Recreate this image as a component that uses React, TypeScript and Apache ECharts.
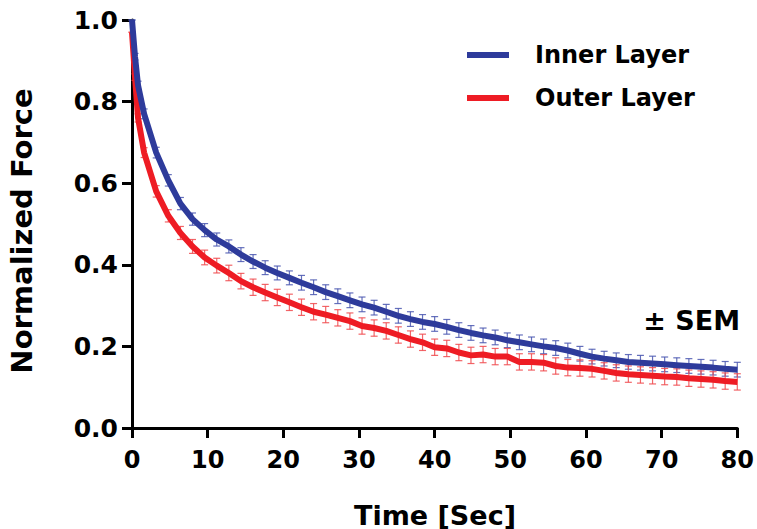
import React, { useEffect, useRef } from "react";
import * as echarts from "echarts";

const times = [0, 0.4, 0.8, 1.6, 3.2, 4.8, 6.4, 8, 9.6, 11.2, 12.8, 14.4, 16, 17.6, 19.2, 20.8, 22.4, 24, 25.6, 27.2, 28.8, 30.4, 32, 33.6, 35.2, 36.8, 38.4, 40, 41.6, 43.2, 44.8, 46.4, 48, 49.6, 51.2, 52.8, 54.4, 56, 57.6, 59.2, 60.8, 62.4, 64, 65.6, 67.2, 68.8, 70.4, 72, 73.6, 75.2, 76.8, 78.4, 80];

const innerMean = [1.0, 0.91, 0.84, 0.77, 0.675, 0.607, 0.55, 0.512, 0.485, 0.462, 0.445, 0.425, 0.408, 0.393, 0.38, 0.368, 0.356, 0.345, 0.333, 0.323, 0.313, 0.303, 0.295, 0.285, 0.275, 0.267, 0.26, 0.255, 0.248, 0.24, 0.233, 0.227, 0.222, 0.215, 0.21, 0.205, 0.2, 0.196, 0.19, 0.182, 0.175, 0.17, 0.166, 0.162, 0.16, 0.158, 0.156, 0.154, 0.152, 0.15, 0.148, 0.145, 0.143];
const innerSem = [0, 0.008, 0.01, 0.012, 0.013, 0.014, 0.015, 0.015, 0.016, 0.016, 0.016, 0.017, 0.017, 0.017, 0.017, 0.017, 0.018, 0.018, 0.018, 0.018, 0.018, 0.018, 0.018, 0.018, 0.018, 0.018, 0.018, 0.018, 0.018, 0.018, 0.018, 0.018, 0.018, 0.018, 0.018, 0.018, 0.018, 0.018, 0.018, 0.018, 0.018, 0.018, 0.018, 0.018, 0.018, 0.018, 0.018, 0.018, 0.018, 0.018, 0.018, 0.018, 0.018];

const outerMean = [0.97, 0.86, 0.76, 0.675, 0.58, 0.52, 0.478, 0.445, 0.418, 0.398, 0.38, 0.36, 0.345, 0.332, 0.32, 0.308, 0.296, 0.285, 0.278, 0.27, 0.262, 0.25, 0.245, 0.238, 0.228, 0.218, 0.21, 0.198, 0.195, 0.185, 0.178, 0.18, 0.175, 0.175, 0.162, 0.162, 0.16, 0.152, 0.148, 0.147, 0.145, 0.14, 0.135, 0.132, 0.13, 0.128, 0.126, 0.125, 0.122, 0.12, 0.118, 0.115, 0.113];
const outerSem = [0, 0.008, 0.01, 0.012, 0.014, 0.015, 0.016, 0.017, 0.018, 0.018, 0.019, 0.019, 0.02, 0.02, 0.02, 0.02, 0.02, 0.02, 0.02, 0.02, 0.02, 0.02, 0.02, 0.02, 0.02, 0.02, 0.02, 0.02, 0.02, 0.02, 0.02, 0.02, 0.02, 0.02, 0.02, 0.02, 0.02, 0.02, 0.02, 0.02, 0.02, 0.02, 0.02, 0.02, 0.02, 0.02, 0.02, 0.02, 0.02, 0.02, 0.02, 0.02, 0.02];

const seriesNames = ["Inner Layer", "Outer Layer"];
const xTicks = [0, 10, 20, 30, 40, 50, 60, 70, 80];
const yTicks = [0.0, 0.2, 0.4, 0.6, 0.8, 1.0];

const BLUE = "#2e3b9b";
const RED = "#ee1c24";
const FONT = "DejaVu Sans, Liberation Sans, Arial, sans-serif";

function errorSeries(mean: number[], sem: number[], color: string) {
  const data = times.map((t, i) => [t, mean[i] - sem[i], mean[i] + sem[i]]);
  return {
    type: "custom",
    silent: true,
    z: 1,
    data,
    encode: { x: 0, y: [1, 2] },
    renderItem: (params: any, api: any) => {
      const x = api.value(0);
      const lo = api.coord([x, api.value(1)]);
      const hi = api.coord([x, api.value(2)]);
      const w = 3.5;
      const style = { stroke: color, lineWidth: 1.2, opacity: 0.85 };
      return {
        type: "group",
        children: [
          { type: "line", shape: { x1: lo[0], y1: lo[1], x2: hi[0], y2: hi[1] }, style },
          { type: "line", shape: { x1: lo[0] - w, y1: lo[1], x2: lo[0] + w, y2: lo[1] }, style },
          { type: "line", shape: { x1: hi[0] - w, y1: hi[1], x2: hi[0] + w, y2: hi[1] }, style },
        ],
      };
    },
  };
}

export default function App() {
  const ref = useRef<HTMLDivElement>(null);
  useEffect(() => {
    if (!ref.current) return;
    const chart = echarts.init(ref.current, null, { renderer: "svg" });
    chart.setOption({
      animation: false,
      backgroundColor: "#ffffff",
      grid: { left: 132, right: 18, top: 20, bottom: 101, containLabel: false },
      legend: {
        data: seriesNames,
        orient: "vertical",
        left: 462,
        top: 38,
        icon: "rect",
        itemWidth: 42,
        itemHeight: 6,
        itemGap: 19,
        textStyle: {
          fontFamily: FONT,
          fontWeight: "bold",
          fontSize: 24,
          color: "#000",
          padding: [0, 0, 0, 21],
        },
      },
      xAxis: {
        type: "value",
        min: 0,
        max: 80,
        interval: 10,
        axisLine: { show: true, lineStyle: { color: "#000", width: 3 } },
        axisTick: { show: true, length: 10, lineStyle: { color: "#000", width: 3 } },
        axisLabel: {
          margin: 20,
          fontFamily: FONT,
          fontWeight: "bold",
          fontSize: 24,
          color: "#000",
          formatter: (v: number) => (xTicks.includes(v) ? String(v) : ""),
        },
        splitLine: { show: false },
      },
      yAxis: {
        type: "value",
        min: 0,
        max: 1,
        interval: 0.2,
        axisLine: { show: true, lineStyle: { color: "#000", width: 3 } },
        axisTick: { show: true, length: 10, lineStyle: { color: "#000", width: 3 } },
        axisLabel: {
          margin: 14,
          fontFamily: FONT,
          fontWeight: "bold",
          fontSize: 25,
          color: "#000",
          formatter: (v: number) => {
            const t = yTicks.find((k) => Math.abs(k - v) < 1e-6);
            return t === undefined ? "" : t.toFixed(1);
          },
        },
        splitLine: { show: false },
      },
      graphic: [
        {
          type: "text",
          x: 435,
          y: 515,
          style: {
            text: "Time [Sec]",
            fontFamily: FONT,
            fontWeight: "bold",
            fontSize: 27,
            fill: "#000",
            align: "center",
            verticalAlign: "middle",
          },
        },
        {
          type: "text",
          x: 22,
          y: 231,
          rotation: Math.PI / 2,
          style: {
            text: "Normalized Force",
            fontFamily: FONT,
            fontWeight: "bold",
            fontSize: 29,
            fill: "#000",
            align: "center",
            verticalAlign: "middle",
          },
        },
        {
          type: "text",
          x: 740,
          y: 320,
          style: {
            text: "± SEM",
            fontFamily: FONT,
            fontWeight: "bold",
            fontSize: 27,
            fill: "#000",
            align: "right",
            verticalAlign: "middle",
          },
        },
      ],
      series: [
        errorSeries(innerMean, innerSem, "#4a57b0"),
        errorSeries(outerMean, outerSem, "#f04a4e"),
        {
          name: seriesNames[0],
          type: "line",
          z: 3,
          data: times.map((t, i) => [t, innerMean[i]]),
          showSymbol: false,
          lineStyle: { color: BLUE, width: 6 },
          itemStyle: { color: BLUE },
        },
        {
          name: seriesNames[1],
          type: "line",
          z: 2,
          data: times.map((t, i) => [t, outerMean[i]]),
          showSymbol: false,
          lineStyle: { color: RED, width: 6 },
          itemStyle: { color: RED },
        },
      ],
    });
    return () => chart.dispose();
  }, []);
  return <div ref={ref} style={{ width: 757, height: 529, position: "absolute", left: 0, top: 0 }} />;
}
